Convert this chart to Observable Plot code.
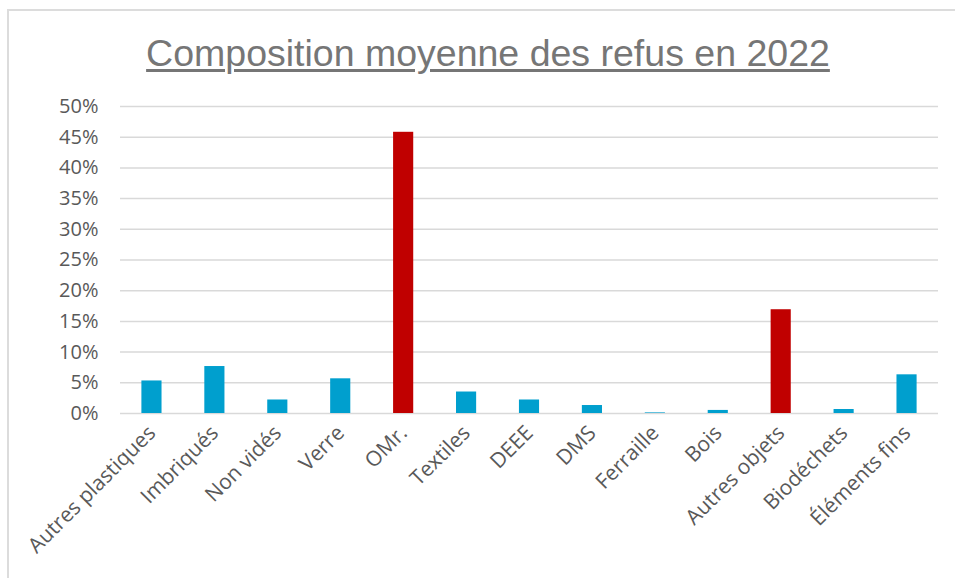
<!DOCTYPE html>
<html>
<head>
<meta charset="utf-8">
<script src="https://cdn.jsdelivr.net/npm/d3@7"></script>
<script src="https://cdn.jsdelivr.net/npm/@observablehq/plot@0.6"></script>
<style>
  html, body { margin: 0; padding: 0; background: #fff; overflow: hidden; }
  #frame { position: absolute; left: 7px; top: 9px; width: 1000px; height: 620px; border: 2px solid #dcdcdc; box-sizing: border-box; }
  #title { position: absolute; left: 0; top: 0; width: 976px; height: 90px; text-align: center; font-family: "Liberation Sans", Arial, sans-serif; font-size: 37.5px; line-height: 38px; color: #767676; }
  #title span { position: absolute; left: 0; width: 976px; top: 34px; text-decoration: underline; text-decoration-thickness: 3px; text-underline-offset: 3px; }
  #chart { position: absolute; left: 0; top: 90px; }
</style>
</head>
<body>
<div id="frame"></div>
<div id="title"><span>Composition moyenne des refus en 2022</span></div>
<div id="chart"></div>
<script>
const categories = ["Autres plastiques", "Imbriqués", "Non vidés", "Verre", "OMr.", "Textiles", "DEEE", "DMS", "Ferraille", "Bois", "Autres objets", "Biodéchets", "Éléments fins"];
const values = [5.3, 7.65, 2.2, 5.65, 45.8, 3.5, 2.2, 1.3, 0.1, 0.5, 16.9, 0.65, 6.3];
const highlighted = ["OMr.", "Autres objets"];
const yTicks = [0, 5, 10, 15, 20, 25, 30, 35, 40, 45, 50];

const data = categories.map((c, i) => ({category: c, value: values[i], hi: highlighted.includes(c)}));

const chart = Plot.plot({
  width: 955,
  height: 488,
  marginLeft: 120,
  marginRight: 17,
  marginTop: 16,
  marginBottom: 165,
  style: {fontFamily: "'Open Sans', sans-serif", fontSize: "20px", color: "#595959", background: "transparent"},
  x: {domain: categories, paddingInner: 0.68, paddingOuter: 0.34, round: false, label: null},
  y: {domain: [0, 50], label: null},
  marks: [
    Plot.gridY(yTicks, {stroke: "#d9d9d9", strokeOpacity: 1, strokeWidth: 1.5}),
    Plot.barY(data, {x: "category", y: "value", fill: d => d.hi ? "#C00000" : "#009FCE"}),
    Plot.axisY(yTicks, {tickSize: 0, tickPadding: 22, tickFormat: d => d + "%", fill: "#595959", fontSize: 20}),
    Plot.axisX({tickSize: 0, tickPadding: 16, tickRotate: -45, fill: "#595959", fontSize: 21})
  ]
});
document.getElementById("chart").appendChild(chart);
</script>
</body>
</html>
